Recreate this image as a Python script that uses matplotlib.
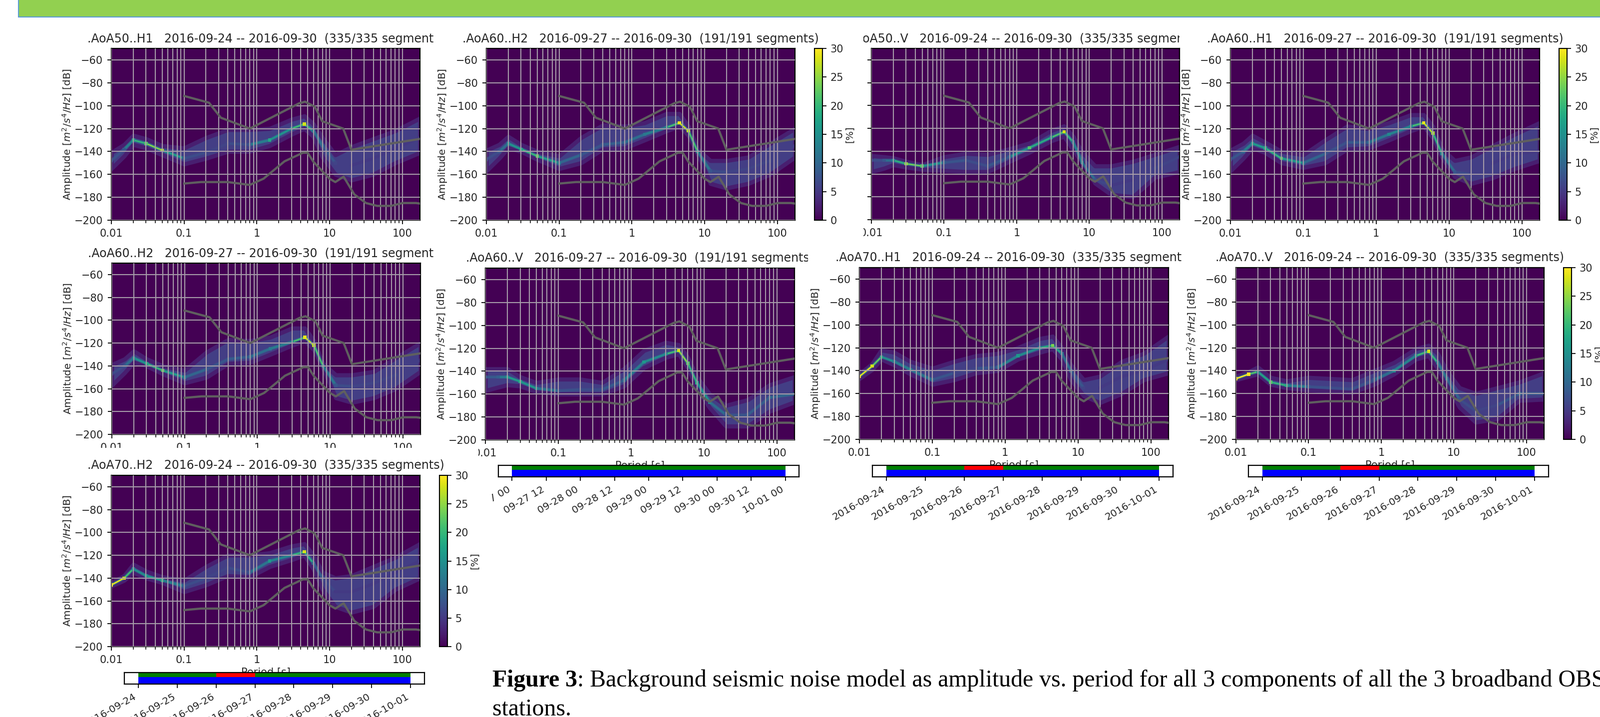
import matplotlib
matplotlib.use("Agg")
import matplotlib.pyplot as plt
import matplotlib.dates as mdates
from matplotlib.cm import ScalarMappable
from matplotlib.collections import LineCollection
from matplotlib.colors import Normalize
from matplotlib.patches import Rectangle
from matplotlib.ticker import FixedLocator, FixedFormatter, NullFormatter
from matplotlib.transforms import Bbox

WIDTH = 3204
HEIGHT = 1436

periods = [0.01, 0.015, 0.02, 0.03, 0.05, 0.1, 0.2, 0.4, 0.8, 1.5, 3, 4.5, 6, 8, 12, 20, 40, 80, 175]

a50_h1_ridge = [-148, -138, -130, -133, -139, -146, -141, -133, -134, -130, -120, -116, -122, -135, -150, -152, -146, -137, -128]
a50_h1_high = [-141, -134, -126, -129, -135, -137, -128, -121, -121, -120, -112, -109, -116, -128, -143, -136, -129, -122, -111]
a50_h1_low = [-155, -144, -134, -137, -143, -151, -146, -140, -140, -135, -125, -120, -127, -145, -160, -165, -160, -150, -141]
a50_h1_pct = [7, 8, 18, 22, 27, 8, 6, 6, 8, 18, 14, 28, 12, 10, 6, 5, 5, 5, 5]

a50_v_ridge = [-148, -148, -148, -151, -153, -150, -148, -153, -145, -137, -128, -123, -132, -150, -165, -170, -165, -155, -145]
a50_v_high = [-144, -145, -146, -149, -152, -145, -142, -143, -138, -133, -122, -118, -127, -141, -153, -153, -149, -143, -136]
a50_v_low = [-158, -155, -152, -154, -156, -157, -158, -158, -149, -141, -131, -127, -139, -150, -168, -178, -180, -163, -158]
a50_v_pct = [6, 8, 14, 25, 22, 9, 7, 7, 9, 22, 16, 28, 12, 14, 8, 5, 5, 6, 6]

a60_h1_ridge = [-147, -140, -133, -137, -146, -150, -142, -132, -132, -125, -118, -115, -124, -142, -158, -160, -150, -142, -140]
a60_h1_high = [-139, -133, -126, -132, -140, -143, -130, -118, -120, -115, -108, -108, -118, -138, -148, -145, -135, -125, -115]
a60_h1_low = [-157, -146, -137, -141, -150, -154, -150, -138, -137, -130, -122, -118, -128, -145, -162, -168, -163, -155, -148]
a60_h1_pct = [6, 10, 16, 18, 22, 12, 8, 7, 10, 14, 14, 29, 26, 14, 8, 6, 5, 5, 5]

a60_h2_ridge = [-147, -140, -133, -138, -144, -150, -143, -134, -132, -125, -119, -115, -122, -140, -157, -158, -155, -148, -135]
a60_h2_high = [-139, -134, -127, -134, -140, -144, -128, -117, -118, -115, -107, -107, -118, -138, -148, -148, -145, -133, -120]
a60_h2_low = [-157, -146, -137, -140, -147, -155, -150, -138, -137, -130, -122, -118, -126, -142, -168, -172, -168, -160, -145]
a60_h2_pct = [6, 8, 14, 18, 23, 12, 8, 8, 10, 12, 14, 29, 27, 16, 8, 6, 6, 6, 5]

a60_v_ridge = [-145, -145, -145, -149, -155, -157, -156, -156, -148, -132, -125, -122, -133, -150, -167, -178, -178, -163, -160]
a60_v_high = [-138, -138, -138, -145, -150, -147, -147, -150, -138, -122, -115, -117, -128, -145, -160, -170, -165, -152, -145]
a60_v_low = [-157, -154, -152, -153, -158, -160, -160, -160, -153, -137, -128, -125, -137, -155, -172, -188, -188, -175, -167]
a60_v_pct = [8, 9, 16, 18, 15, 8, 7, 7, 10, 16, 14, 28, 22, 18, 14, 8, 8, 10, 10]

a70_h1_ridge = [-145, -136, -128, -132, -139, -148, -142, -138, -137, -127, -120, -118, -125, -140, -155, -155, -145, -140, -130]
a70_h1_high = [-143, -134, -122, -124, -132, -138, -132, -127, -125, -120, -112, -110, -120, -135, -148, -145, -132, -125, -110]
a70_h1_low = [-147, -139, -130, -135, -143, -152, -148, -142, -140, -130, -124, -121, -130, -148, -162, -168, -160, -148, -142]
a70_h1_pct = [30, 28, 18, 12, 14, 10, 6, 6, 10, 16, 14, 24, 12, 10, 6, 5, 5, 5, 5]

a70_h2_ridge = [-146, -140, -132, -138, -142, -147, -140, -131, -135, -125, -120, -117, -127, -140, -152, -152, -145, -135, -125]
a70_h2_high = [-144, -138, -128, -134, -139, -142, -130, -120, -120, -118, -112, -110, -120, -135, -140, -138, -130, -122, -110]
a70_h2_low = [-147, -142, -135, -140, -144, -152, -146, -138, -139, -130, -124, -120, -132, -150, -165, -170, -165, -150, -140]
a70_h2_pct = [30, 28, 14, 16, 18, 8, 6, 6, 8, 16, 12, 28, 10, 8, 5, 5, 5, 5, 5]

a70_v_ridge = [-147, -143, -141, -150, -153, -154, -155, -156, -148, -140, -127, -123, -133, -147, -165, -175, -170, -160, -160]
a70_v_high = [-145, -141, -137, -146, -149, -146, -147, -148, -140, -133, -121, -118, -125, -140, -155, -160, -155, -150, -142]
a70_v_low = [-148, -145, -143, -152, -155, -157, -158, -159, -152, -143, -130, -127, -138, -152, -172, -185, -182, -166, -165]
a70_v_pct = [30, 30, 14, 22, 18, 8, 7, 7, 8, 14, 14, 28, 12, 12, 8, 6, 6, 10, 8]

# high and low noise models
nhnm_period = [0.1, 0.22, 0.32, 0.8, 3.8, 4.6, 6.3, 7.9, 15.4, 20, 175]
nhnm_db = [-91.5, -97.4, -110.5, -120, -98, -96.5, -101, -113.5, -120, -138.5, -129]
nlnm_period = [0.1, 0.17, 0.4, 0.8, 1.24, 2.4, 4.3, 5, 6, 10, 12, 15.6, 21.9, 31.6, 45, 70, 101, 154, 175]
nlnm_db = [-168, -166.7, -166.7, -169.2, -163.7, -148.6, -141.1, -141.1, -149, -163.8, -166.7, -162, -177.5, -185, -187.5, -187.5, -185, -185, -185.5]

period_ticks = [0.01, 0.1, 1, 10, 100]
period_labels = ["0.01", "0.1", "1", "10", "100"]
period_minor = [m * 10.0 ** e for e in range(-2, 3) for m in range(2, 10)]
db_ticks = [-200, -180, -160, -140, -120, -100, -80, -60]
pct_ticks = [0, 5, 10, 15, 20, 25, 30]

title_24 = "2016-09-24 -- 2016-09-30  (335/335 segments)"
title_27 = "2016-09-27 -- 2016-09-30  (191/191 segments)"

week_ticks = ["2016-09-24", "2016-09-25", "2016-09-26", "2016-09-27", "2016-09-28", "2016-09-29", "2016-09-30", "2016-10-01"]
short_ticks = ["2016-09-27 00:00", "2016-09-27 12:00", "2016-09-28 00:00", "2016-09-28 12:00", "2016-09-29 00:00", "2016-09-29 12:00", "2016-09-30 00:00", "2016-09-30 12:00", "2016-10-01 00:00"]
short_labels = ["09-27 00", "09-27 12", "09-28 00", "09-28 12", "09-29 00", "09-29 12", "09-30 00", "09-30 12", "10-01 00"]
gap_start = "2016-09-26"
gap_stop = "2016-09-27"

cmap = plt.get_cmap("viridis")
norm = Normalize(0, 30)
TEXT = "#262626"
GRID = "#a69ca9"
FS_TICK = 15

plt.rcParams["font.family"] = ["DejaVu Sans"]
plt.rcParams["mathtext.default"] = "it"

fig = plt.figure(figsize=(WIDTH / 100, HEIGHT / 100), dpi=100)


def px_axes(left, right, top, bottom):
    return fig.add_axes([left / WIDTH, 1 - bottom / HEIGHT, (right - left) / WIDTH, (bottom - top) / HEIGHT])


def crop_text(text, crop):
    x0, x1, y0, y1 = crop
    text.set_clip_box(Bbox([[x0, HEIGHT - y1], [x1, HEIGHT - y0]]))
    text.set_clip_on(True)


def draw_panel(name, start_title, data, box, crop):
    left, right, top, bottom = box
    ridge, high, low, pct = data
    ax = px_axes(left, right, top, bottom)
    ax.set_facecolor(cmap(0.0))

    ax.fill_between(periods, low, high, facecolor=cmap(norm(5.5)), edgecolor=cmap(norm(2.5)), linewidth=6, zorder=1)

    segments = [[(periods[i], ridge[i]), (periods[i + 1], ridge[i + 1])] for i in range(len(periods) - 1)]
    means = [(pct[i] + pct[i + 1]) / 2 for i in range(len(periods) - 1)]
    ax.add_collection(LineCollection(segments, colors=[cmap(norm(min(m, 13))) for m in means],
                                     linewidths=4.5, alpha=0.7, zorder=1.5, capstyle="round"))
    ax.add_collection(LineCollection(segments, colors=[cmap(norm(m)) for m in means],
                                     linewidths=2.0, zorder=2, capstyle="round"))
    ax.scatter(periods, ridge, c=pct, cmap=cmap, norm=norm, s=22, marker="s", linewidths=0, zorder=2.1)

    ax.plot(nhnm_period, nhnm_db, color="#5f5f5f", linewidth=3.2, zorder=3)
    ax.plot(nlnm_period, nlnm_db, color="#5f5f5f", linewidth=3.2, zorder=3)

    ax.set_xscale("log")
    ax.set_xlim(0.01, 175)
    ax.set_ylim(-200, -50)
    ax.xaxis.set_major_locator(FixedLocator(period_ticks))
    ax.xaxis.set_major_formatter(FixedFormatter(period_labels))
    ax.xaxis.set_minor_locator(FixedLocator([p for p in period_minor if p < 175]))
    ax.xaxis.set_minor_formatter(NullFormatter())
    ax.set_yticks(db_ticks)
    ax.set_axisbelow(False)
    ax.grid(True, which="major", color=GRID, linewidth=1.5)
    ax.grid(True, which="minor", axis="x", color=GRID, linewidth=1.5)
    ax.tick_params(which="major", labelsize=FS_TICK, labelcolor=TEXT, length=6, width=1.3, pad=6)
    ax.tick_params(which="minor", length=4, width=1.1)
    for spine in ax.spines.values():
        spine.set_linewidth(1.6)

    xlab = ax.set_xlabel("Period [s]", fontsize=15, color=TEXT, labelpad=4)
    ylab = ax.set_ylabel("Amplitude [$m^2/s^4/Hz$] [dB]", fontsize=14.5, color=TEXT, labelpad=0.5)
    title = ax.set_title(name + "   " + start_title, fontsize=17, color=TEXT, pad=9)

    for text in [xlab, ylab, title] + ax.get_xticklabels() + ax.get_yticklabels():
        crop_text(text, crop)
    return ax


def draw_colorbar(left, right, top, bottom):
    cax = px_axes(left, right, top, bottom)
    cb = fig.colorbar(ScalarMappable(norm=norm, cmap=cmap), cax=cax)
    cb.set_ticks(pct_ticks)
    cb.ax.tick_params(labelsize=FS_TICK, labelcolor=TEXT, length=6, width=1.3, pad=5)
    cb.outline.set_linewidth(1.5)
    cb.set_label("[%]", fontsize=14, color=TEXT, labelpad=2)


def draw_strip(left, right, top, bottom, ticks, labels, margin, gap=True, label_crop=None):
    ax = px_axes(left, right, top, bottom)
    t0 = mdates.datestr2num(ticks[0])
    t1 = mdates.datestr2num(ticks[-1])
    ax.set_xlim(t0 - margin, t1 + margin)
    ax.set_ylim(0, 1)
    ax.axvspan(t0, t1, ymin=0, ymax=0.62, facecolor="#0000ff", linewidth=0)
    ax.axvspan(t0, t1, ymin=0.62, ymax=1, facecolor="#007f00", linewidth=0)
    if gap:
        ax.axvspan(mdates.datestr2num(gap_start), mdates.datestr2num(gap_stop), ymin=0.62, ymax=1, facecolor="#ff0000", linewidth=0)
    ax.set_yticks([])
    ax.set_xticks([mdates.datestr2num(t) for t in ticks])
    ax.set_xticklabels(labels, rotation=30, ha="right", rotation_mode="default")
    ax.tick_params(axis="x", labelsize=14.5, labelcolor=TEXT, length=6, width=1.3, pad=5)
    for spine in ax.spines.values():
        spine.set_linewidth(1.6)
    ax.set_zorder(5)
    if label_crop:
        for text in ax.get_xticklabels():
            crop_text(text, label_crop)


# panels are laid out in pixels, as they were pasted on the original slide
draw_panel(".AoA50..H1", title_24, (a50_h1_ridge, a50_h1_high, a50_h1_low, a50_h1_pct),
           (223, 841, 97, 441), (100, 868, 50, 478))
draw_panel(".AoA60..H2", title_27, (a60_h2_ridge, a60_h2_high, a60_h2_low, a60_h2_pct),
           (974, 1592, 97, 441), (860, 1660, 50, 478))
draw_colorbar(1631, 1647, 97, 441)
draw_panel(".AoA50..V", title_24, (a50_v_ridge, a50_v_high, a50_v_low, a50_v_pct),
           (1745, 2362, 97, 440), (1729, 2362, 50, 478))
draw_panel(".AoA60..H1", title_27, (a60_h1_ridge, a60_h1_high, a60_h1_low, a60_h1_pct),
           (2464, 3083, 97, 441), (2350, 3204, 50, 478))
draw_colorbar(3122, 3138, 97, 441)

draw_panel(".AoA60..H2", title_27, (a60_h2_ridge, a60_h2_high, a60_h2_low, a60_h2_pct),
           (224, 842, 527, 870), (100, 868, 490, 897))
ax_v = draw_panel(".AoA60..V", title_27, (a60_v_ridge, a60_v_high, a60_v_low, a60_v_pct),
                  (972, 1591, 537, 881), (862, 1618, 490, 932))
crop_text(ax_v.get_xticklabels()[0], (958, 1618, 490, 932))
draw_panel(".AoA70..H1", title_24, (a70_h1_ridge, a70_h1_high, a70_h1_low, a70_h1_pct),
           (1721, 2340, 536, 880), (1610, 2366, 490, 932))
draw_panel(".AoA70..V", title_24, (a70_v_ridge, a70_v_high, a70_v_low, a70_v_pct),
           (2475, 3092, 536, 880), (2360, 3204, 490, 932))
draw_colorbar(3131, 3147, 536, 880)

draw_panel(".AoA70..H2", title_24, (a70_h2_ridge, a70_h2_high, a70_h2_low, a70_h2_pct),
           (223, 841, 952, 1295), (100, 900, 905, 1347))
draw_colorbar(880, 896, 952, 1295)

draw_strip(998, 1600, 932, 955, short_ticks, short_labels, 0.198, gap=False, label_crop=(985, 1640, 950, 1100))
draw_strip(1747, 2349, 932, 955, week_ticks, week_ticks, 0.353)
draw_strip(2500, 3101, 932, 955, week_ticks, week_ticks, 0.353)
draw_strip(249, 850, 1347, 1370, week_ticks, week_ticks, 0.353, label_crop=(179, 900, 1360, 1436))

# green banner along the top of the slide
fig.add_artist(Rectangle((37 / WIDTH, 1 - 34 / HEIGHT), 1, 40 / HEIGHT, transform=fig.transFigure,
                         facecolor="#92d050", edgecolor="#5b9bd5", linewidth=1.5))

# caption, with the bold lead-in placed by measuring it
renderer = fig.canvas.get_renderer()
lead = fig.text(986 / WIDTH, 1 - 1375 / HEIGHT, "Figure 3", family="Liberation Serif", weight="bold",
                fontsize=34.4, color="black", va="baseline")
lead_end = lead.get_window_extent(renderer).x1
fig.text(lead_end / WIDTH, 1 - 1375 / HEIGHT,
         ": Background seismic noise model as amplitude vs. period for all 3 components of all the 3 broadband OBS",
         family="Liberation Serif", fontsize=34.4, color="black", va="baseline")
fig.text(986 / WIDTH, 1 - 1433 / HEIGHT, "stations.", family="Liberation Serif", fontsize=34.4, color="black", va="baseline")

fig.savefig("out.png", dpi=100)
